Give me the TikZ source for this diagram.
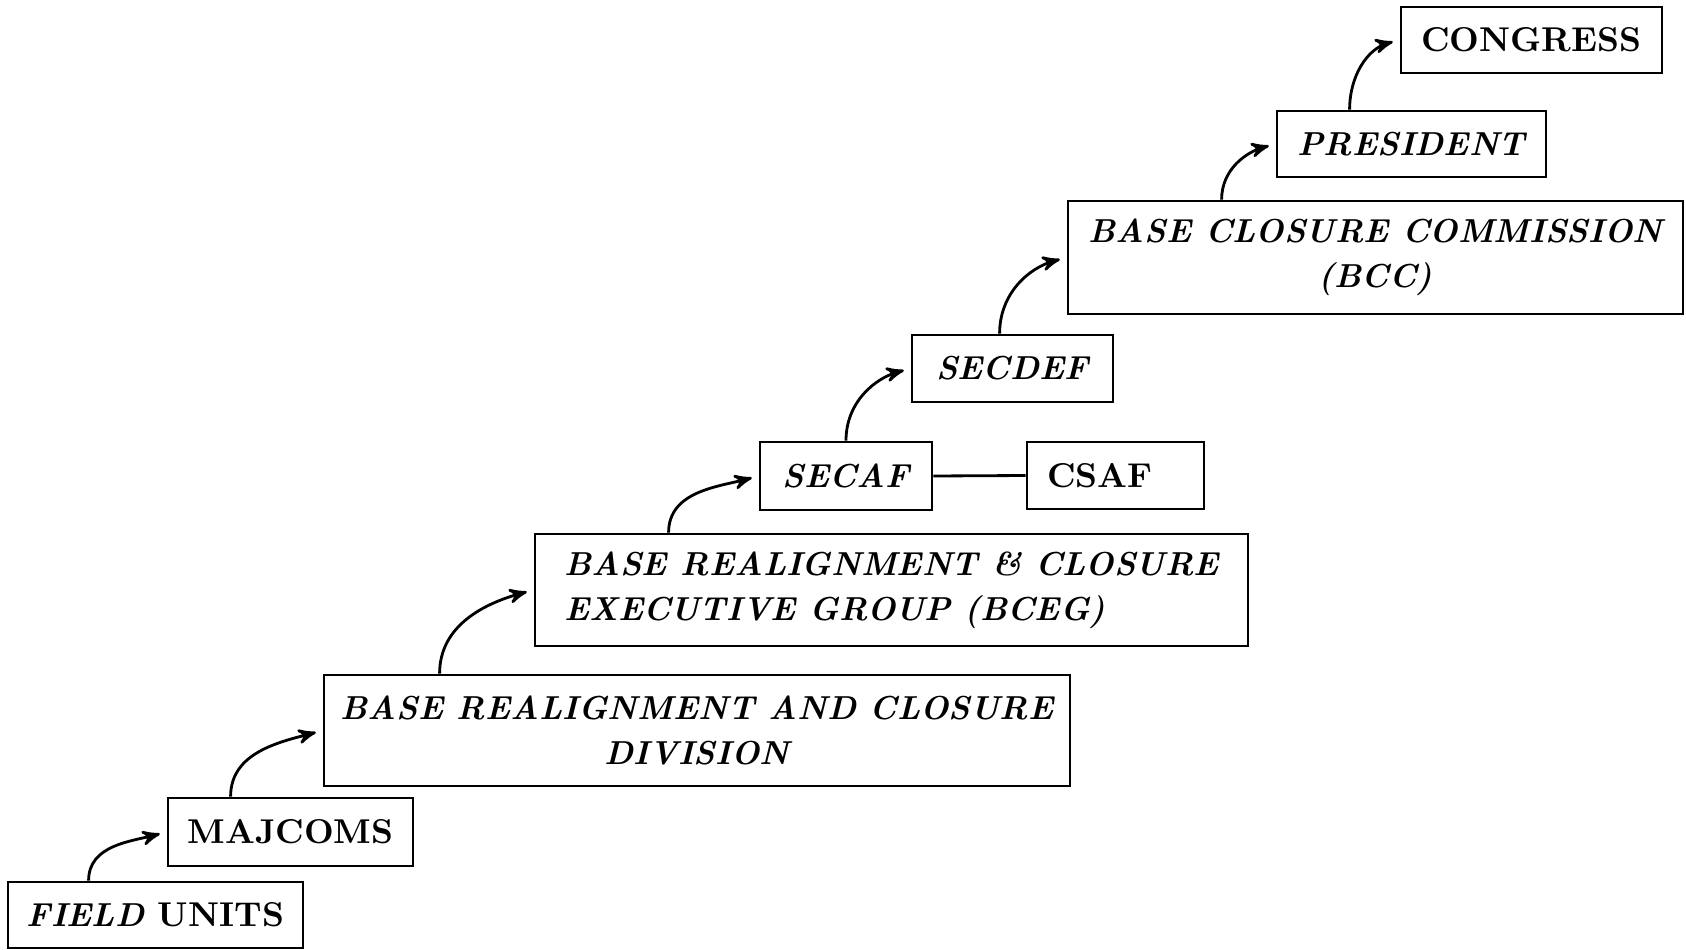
\documentclass[tikz,border=0pt]{standalone}
\usetikzlibrary{shapes,backgrounds}
\usetikzlibrary{arrows,calc}

\tikzset{
	stage/.style={draw, rectangle, line width=0.8pt, inner sep=0pt, font=\fontsize{9.45}{12.9}\selectfont\bfseries\itshape},
	upstage/.style={stage, font=\fontsize{9.8}{12.9}\selectfont\bfseries},
	climb/.style={->, >=stealth', line width=0.8pt, shorten >=2pt},
}

\begin{document}
\begin{tikzpicture}
	\useasboundingbox (0,0) rectangle (16.86,9.49);
	% the chain of reviewing bodies, bottom to top
	\node[stage, minimum width=2.95cm, minimum height=0.66cm] (field) at (1.555,0.34) {FIELD {\fontsize{9.8}{12.9}\selectfont\upshape UNITS}};
	\node[upstage, minimum width=2.45cm, minimum height=0.68cm] (majcoms) at (2.905,1.17) {MAJCOMS};
	\node[stage, minimum width=7.46cm, minimum height=1.11cm, align=center] (brac) at (6.97,2.185) {BASE REALIGNMENT AND CLOSURE\\DIVISION};
	\node[stage, minimum width=7.13cm, minimum height=1.12cm, align=left] (bceg) at (8.915,3.59) {BASE REALIGNMENT \& CLOSURE\\EXECUTIVE GROUP (BCEG)};
	\node[stage, minimum width=1.72cm, minimum height=0.68cm] (secaf) at (8.46,4.73) {SECAF};
	\node[upstage, minimum height=0.67cm, text width=1.37cm, inner xsep=0.2cm, align=left] (csaf) at (11.155,4.735) {CSAF};
	\node[stage, minimum width=2.01cm, minimum height=0.67cm] (secdef) at (10.125,5.805) {SECDEF};
	\node[stage, minimum width=6.15cm, minimum height=1.13cm, align=center] (bcc) at (13.755,6.915) {BASE CLOSURE COMMISSION\\(BCC)};
	\node[stage, minimum width=2.69cm, minimum height=0.66cm] (pres) at (14.115,8.05) {PRESIDENT};
	\node[upstage, minimum width=2.61cm, minimum height=0.66cm] (congress) at (15.315,9.09) {CONGRESS};

	\draw[line width=0.8pt] (secaf.east) -- (csaf.west);

	\draw[climb] ($(field.north west)+(0.82,0)$) to[out=90,in=195] (majcoms.west);
	\draw[climb] ($(majcoms.north west)+(0.64,0)$) to[out=90,in=195] (brac.west);
	\draw[climb] ($(brac.north west)+(1.17,0)$) to[out=90,in=195] (bceg.west);
	\draw[climb] ($(bceg.north west)+(1.35,0)$) to[out=90,in=195] (secaf.west);
	\draw[climb] (secaf.north) to[out=90,in=195] (secdef.west);
	\draw[climb] ($(secdef.north west)+(0.89,0)$) to[out=90,in=195] (bcc.west);
	\draw[climb] ($(bcc.north west)+(1.55,0)$) to[out=90,in=195] (pres.west);
	\draw[climb] ($(pres.north west)+(0.74,0)$) to[out=90,in=195] (congress.west);
\end{tikzpicture}
\end{document}
